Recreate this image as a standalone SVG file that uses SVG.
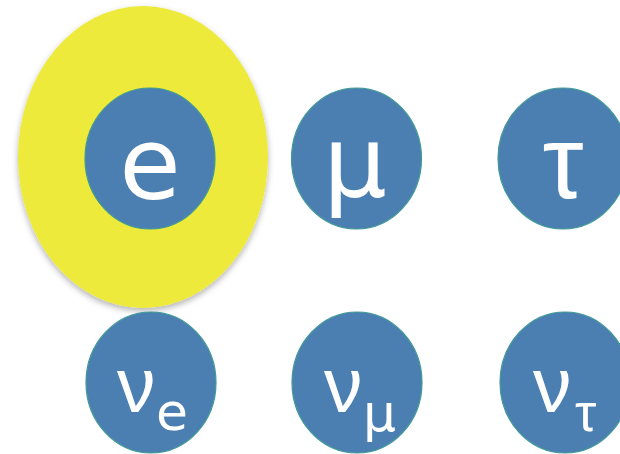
<svg xmlns="http://www.w3.org/2000/svg" width="620" height="454" viewBox="0 0 620 454">
<defs>
<filter id="sh" x="-20%" y="-20%" width="140%" height="140%">
<feDropShadow dx="0" dy="3" stdDeviation="3" flood-color="#000" flood-opacity="0.3"/>
</filter>
</defs>
<style>
.n{fill:#4c7fb1;stroke:#3f9a94;stroke-width:1.2}
.t{fill:#fff;font-family:"DejaVu Sans",Verdana,sans-serif}
.g{fill:#fff;font-family:"Liberation Sans",Arial,sans-serif}
.big{font-size:100px;text-anchor:middle}
.bigg{font-size:104px;text-anchor:middle}
.nu{font-size:77px}
.sub{font-size:52px}
.subg{font-size:54px}
</style>
<rect width="620" height="454" fill="#fff"/>
<g id="halo"><ellipse cx="143" cy="157" rx="125" ry="151" fill="#eeea3a" filter="url(#sh)"/></g>
<g id="electron"><ellipse class="n" cx="150" cy="158.5" rx="65" ry="70.5"/><text class="t big" x="150" y="199">e</text></g>
<g id="muon"><ellipse class="n" cx="356.5" cy="158.5" rx="65" ry="70.5"/><text class="t big" x="355" y="197">μ</text></g>
<g id="tau"><ellipse class="n" cx="563" cy="158.5" rx="65" ry="70.5"/><text class="g bigg" x="563" y="198">τ</text></g>
<g id="nu_e"><ellipse class="n" cx="151" cy="382.5" rx="65" ry="70.5"/><text class="g nu" x="117" y="412">ν</text><text class="t sub" x="156" y="430">e</text></g>
<g id="nu_mu"><ellipse class="n" cx="357" cy="382.5" rx="65" ry="70.5"/><text class="g nu" x="324" y="412">ν</text><text class="t sub" x="363" y="431">μ</text></g>
<g id="nu_tau"><ellipse class="n" cx="565" cy="382.5" rx="65" ry="70.5"/><text class="g nu" x="533" y="412">ν</text><text class="g subg" x="575" y="431">τ</text></g>
<g id="connectors"/>
</svg>
